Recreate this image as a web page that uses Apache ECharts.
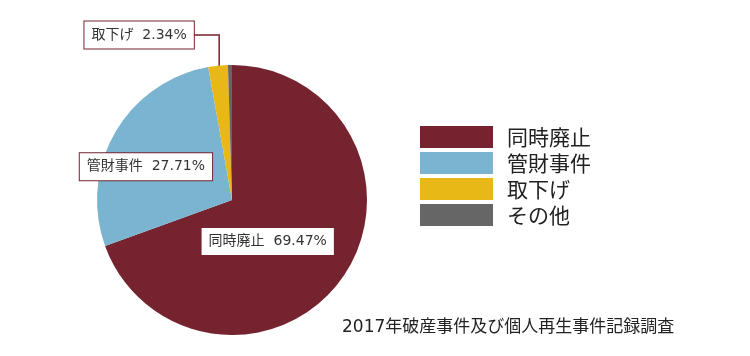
<!DOCTYPE html>
<html><head><meta charset="utf-8">
<script src="https://cdn.jsdelivr.net/npm/echarts@6/dist/echarts.min.js"></script>
<style>html,body{margin:0;padding:0;background:#fff}#c{width:750px;height:356px}</style>
</head><body><div id="c"></div>
<script>
const categories = ['同時廃止', '管財事件', '取下げ', 'その他'];
const values = [69.47, 27.71, 2.34, 0.48];
const colors = ['#74232f', '#7bb4d1', '#e8b817', '#666666'];
const sourceText = '2017年破産事件及び個人再生事件記録調査';

const FONT = '"DejaVu Sans", "Noto Sans CJK JP", sans-serif';
const CJKFONT = '"Noto Sans CJK JP", sans-serif';
const labelBox = {
  show: true,
  formatter: p => p.name + '  ' + p.value.toFixed(2) + '%',
  backgroundColor: '#fff',
  borderColor: '#74232f',
  borderWidth: 1,
  padding: [7, 7, 6, 7],
  fontSize: 14,
  fontFamily: FONT,
  color: '#333'
};
const labelSettings = [
  Object.assign({}, labelBox, { position: 'inside', offset: [-22, 1] }),
  Object.assign({}, labelBox, { position: 'inside', offset: [-25, 2] }),
  Object.assign({}, labelBox, { position: 'outside', distanceToLabelLine: 0 }),
  { show: false }
];

const data = categories.map((c, i) => ({
  name: c,
  value: values[i],
  itemStyle: { color: colors[i] },
  label: labelSettings[i],
  labelLine: i === 2 ? { show: true, length: 31, length2: 21, lineStyle: { color: '#74232f', width: 1.5 } } : { show: false }
}));

const chart = echarts.init(document.getElementById('c'), null, { renderer: 'canvas' });
chart.setOption({
  animation: false,
  title: {
    text: sourceText,
    left: 342, top: 319, padding: 0,
    textStyle: { fontSize: 17, fontWeight: 'normal', color: '#222', fontFamily: FONT }
  },
  legend: {
    orient: 'vertical',
    left: 420, top: 126, padding: 0,
    itemWidth: 73, itemHeight: 22, itemGap: 4,
    icon: 'rect',
    selectedMode: false,
    data: categories,
    textStyle: { fontSize: 21, color: '#222', fontFamily: CJKFONT, padding: [0, 0, 0, 9] }
  },
  series: [{
    type: 'pie',
    center: [232, 200],
    radius: 135,
    startAngle: 90,
    clockwise: true,
    avoidLabelOverlap: false,
    data: data,
    itemStyle: { borderWidth: 0 },
    emphasis: { disabled: true },
    labelLayout: function (params) {
      const pts = params.labelLinePoints;
      if (params.dataIndex === 2 && pts && pts.length >= 2) {
        const p0 = pts[0], p1 = pts[1];
        const dx = p0[0] - p1[0], dy = p0[1] - p1[1];
        const len = Math.sqrt(dx * dx + dy * dy) || 1;
        const ext = 11;
        const np0 = [p0[0] + dx / len * ext, p0[1] + dy / len * ext];
        return { labelLinePoints: [np0, [np0[0], p1[1]], pts[2] || p1] };
      }
      return {};
    }
  }]
});
</script></body></html>
